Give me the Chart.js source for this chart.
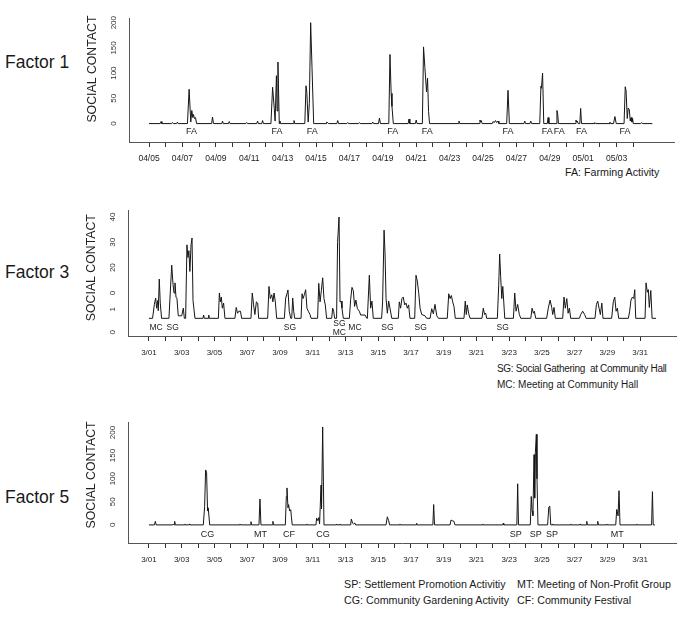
<!DOCTYPE html>
<html>
<head>
<meta charset="utf-8">
<script src="https://cdn.jsdelivr.net/npm/chart.js@4.4.1/dist/chart.umd.min.js"></script>
<style>
  body { margin: 0; background: #fff; font-family: "Liberation Sans", Arial, sans-serif; color: #1a1a1a; }
  #page { position: relative; width: 685px; height: 620px; overflow: hidden; }
  canvas { position: absolute; }
  .factor { position: absolute; left: 5px; font-size: 17.5px; line-height: 20px; }
  .note { position: absolute; font-size: 10.7px; line-height: 14px; white-space: pre; }
  .note.small { font-size: 10px; }
</style>
</head>
<body>
<div id="page">
  <div class="factor" style="top:52px">Factor 1</div>
  <div class="factor" style="top:262px">Factor 3</div>
  <div class="factor" style="top:487px">Factor 5</div>

  <canvas id="f1" width="605" height="160" style="left:80px;top:5px"></canvas>
  <canvas id="f3" width="606" height="165" style="left:79px;top:195px"></canvas>
  <canvas id="f5" width="606" height="159" style="left:79px;top:409px"></canvas>

  <div class="note" style="left:565px;top:165px">FA: Farming Activity</div>
  <div class="note small" style="left:497px;top:362px;letter-spacing:-0.3px">SG: Social Gathering  at Community Hall</div>
  <div class="note small" style="left:497px;top:378px">MC: Meeting at Community Hall</div>
  <div class="note" style="left:344px;top:577px">SP: Settlement Promotion Activitiy</div>
  <div class="note" style="left:517px;top:577px">MT: Meeting of Non-Profit Group</div>
  <div class="note" style="left:344px;top:593px">CG: Community Gardening Activity</div>
  <div class="note" style="left:517px;top:593px">CF: Community Festival</div>
</div>
<script>
// Days are counted from the first tick (04/05 for Factor 1, 3/01 for the others)

// ---- Factor 1 ----
const f1Dates = ['04/05','04/06','04/07','04/08','04/09','04/10','04/11','04/12','04/13','04/14',
                 '04/15','04/16','04/17','04/18','04/19','04/20','04/21','04/22','04/23','04/24',
                 '04/25','04/26','04/27','04/28','04/29','04/30','05/01','05/02','05/03','05/04'];
const f1YTicks = [0, 50, 100, 150, 200];
const f1YLabels = ['0', '50', '100', '150', '200'];
const f1Days = [
  0, 0.67, 0.72, 0.77, 1.35, 1.4, 1.45, 1.65, 1.7, 1.75,
  2.3, 2.4, 2.5, 2.56, 2.62, 2.66, 2.72, 2.78, 2.85,
  3.75, 3.8, 3.86, 4.36, 4.4, 4.45, 4.76, 4.8, 4.85,
  5.8, 5.85, 5.9, 6.45, 6.5, 6.55, 6.75, 6.8, 6.85,
  7.3, 7.4, 7.5, 7.55, 7.63, 7.67, 7.72, 7.8, 7.84, 7.88,
  8.63, 8.68, 8.73,
  9.33, 9.4, 9.45, 9.53, 9.6, 9.68, 9.76, 9.86,
  10.6, 10.64, 10.7, 10.75, 11.25, 11.3, 11.35, 11.85, 11.9, 11.95,
  12.55, 12.6, 12.65, 13.35, 13.4, 13.45, 13.74, 13.8, 13.86,
  14.36, 14.43, 14.5, 14.55, 14.63,
  15.52, 15.57, 15.62, 15.95, 16.0, 16.05,
  16.37, 16.44, 16.52, 16.62, 16.68, 16.74, 16.8,
  18.51, 18.56, 18.61,
  19.77, 19.82, 19.86, 19.9, 19.95,
  20.55, 20.6, 20.68, 20.75, 20.82, 20.9, 20.95,
  21.42, 21.5, 21.58,
  22.45, 22.5, 22.55, 22.81, 22.86, 22.91,
  23.4, 23.47, 23.5, 23.57, 23.64,
  23.85, 23.9, 23.95,
  24.38, 24.43, 24.47, 24.52,
  25.52, 25.57, 25.61, 25.65, 25.7, 25.8, 25.85, 25.9,
  26.65, 26.7, 26.75, 27.55, 27.6, 27.65, 27.82, 27.9, 27.98,
  28.45, 28.52, 28.57, 28.64, 28.7, 28.76, 28.82, 28.87, 28.92, 28.96, 29.0,
  29.45, 29.5, 29.55, 30.14
];
const f1Values = [
  0, 0, 4, 0, 0, 2, 0, 0, 3, 0,
  0, 68, 3, 26, 12, 18, 10, 12, 0,
  0, 13, 0, 0, 5, 0, 0, 4, 0,
  0, 2, 0, 0, 5, 0, 0, 6, 0,
  0, 72, 30, 5, 95, 25, 122, 0, 5, 0,
  0, 6, 0,
  0, 75, 62, 3, 40, 200, 111, 0,
  0, 3, 2, 0, 0, 6, 0, 0, 2, 0,
  0, 2, 0, 0, 3, 0, 0, 11, 0,
  0, 137, 60, 34, 0,
  0, 9, 0, 0, 7, 0,
  0, 152, 111, 63, 90, 24, 0,
  0, 5, 0,
  0, 7, 3, 6, 0,
  0, 4, 2, 6, 2, 5, 0,
  0, 66, 0,
  0, 5, 0, 0, 5, 0,
  0, 74, 70, 100, 0,
  0, 12, 0,
  0, 26, 20, 0,
  0, 7, 3, 5, 0, 0, 30, 0,
  0, 2, 0, 0, 3, 0, 0, 14, 0,
  0, 73, 65, 10, 31, 28, 5, 12, 3, 10, 0,
  0, 2, 0, 0
];
const f1EventDays = [2.55, 7.66, 9.78, 14.6, 16.66, 21.5, 23.85, 24.57, 25.9, 28.5];
const f1EventLabels = ['FA', 'FA', 'FA', 'FA', 'FA', 'FA', 'FA', 'FA', 'FA', 'FA'];

// ---- Factor 3 ----
const marchDates = ['3/01','3/02','3/03','3/04','3/05','3/06','3/07','3/08','3/09','3/10',
                    '3/11','3/12','3/13','3/14','3/15','3/16','3/17','3/18','3/19','3/20',
                    '3/21','3/22','3/23','3/24','3/25','3/26','3/27','3/28','3/29','3/30','3/31'];
const f3YTicks = [-5.5, 3.6, 10, 20, 30, 40];
const f3YLabels = ['0', '1', '0', '20', '30', '40'];
const f3Days = [
  0,
  0.22, 0.33, 0.41, 0.47, 0.53, 0.57, 0.63, 0.69, 0.77,
  1.22, 1.39, 1.47, 1.53, 1.59, 1.65, 1.71, 1.79, 2.0, 2.1, 2.16,
  2.24, 2.32, 2.38, 2.44, 2.5, 2.57, 2.63, 2.69, 2.81,
  3.3, 3.34, 3.38, 3.61, 3.65, 3.69,
  4.24, 4.3, 4.36, 4.42, 4.48, 4.56, 4.64,
  5.25, 5.33, 5.41, 5.49, 5.59, 5.66,
  6.23, 6.31, 6.39, 6.47, 6.56, 6.64, 6.7,
  7.25, 7.33, 7.41, 7.5, 7.57, 7.64, 7.72, 7.8,
  8.27, 8.35, 8.43, 8.49, 8.57, 8.66, 8.72, 8.78, 8.84, 8.9,
  9.29, 9.35, 9.41, 9.49, 9.57, 9.65, 9.73, 9.84, 9.9,
  10.3, 10.37, 10.45, 10.53, 10.61, 10.69, 10.77, 10.85,
  11.16, 11.22, 11.28, 11.34,
  11.46, 11.52, 11.61, 11.67, 11.73, 11.79, 11.87,
  12.24, 12.32, 12.4, 12.48, 12.56, 12.64, 12.73, 12.85, 12.93, 13.2, 13.3,
  13.34, 13.46, 13.54, 13.62, 13.7,
  14.21, 14.27, 14.36, 14.42, 14.48, 14.56, 14.64, 14.72, 14.83,
  15.23, 15.29, 15.37, 15.45, 15.53, 15.62, 15.7, 15.78, 15.86, 15.94,
  16.23, 16.31, 16.39, 16.48, 16.56, 16.66, 16.86, 16.96,
  17.17, 17.27, 17.37, 17.47, 17.58, 17.68,
  18.22, 18.31, 18.39, 18.47, 18.55, 18.63, 18.71,
  19.24, 19.32, 19.38, 19.44, 19.53, 19.61,
  20.34, 20.42, 20.5, 20.57, 20.63,
  21.28, 21.36, 21.42, 21.48, 21.55, 21.61, 21.67, 21.73,
  22.26, 22.34, 22.42, 22.52, 22.62, 22.71,
  23.32, 23.4, 23.48, 23.54, 23.62,
  24.29, 24.39, 24.5, 24.6, 24.66, 24.74, 24.82,
  25.27, 25.35, 25.43, 25.52, 25.6, 25.68, 25.76,
  26.29, 26.37, 26.49, 26.61, 26.7,
  27.24, 27.33, 27.41, 27.49, 27.57, 27.66, 27.73,
  28.26, 28.36, 28.45, 28.53, 28.61, 28.69,
  29.28, 29.36, 29.44, 29.53, 29.61, 29.67, 29.73,
  30.3, 30.36, 30.44, 30.5, 30.56, 30.65, 30.73,
  30.97
];
const f3Values = [
  0,
  0, 5.5, 8, 4, 7, 3, 15.5, 6, 0,
  0, 21, 13.5, 10, 14, 8.4, 7.8, 1, 1, 4, 0,
  0, 29, 24, 26.7, 18.5, 29, 31.7, 7, 0,
  0, 1.3, 0, 0, 1.3, 0,
  0, 10, 6.5, 8.4, 4, 6, 0,
  0, 4.3, 2, 2.8, 2.8, 0,
  0, 10, 5.3, 1.5, 6.5, 6, 0,
  0, 12.6, 7.8, 9.3, 6.5, 10, 6.5, 0,
  0, 8, 9.7, 11.2, 2.8, 0, 0, 8, 2.8, 0,
  0, 9.7, 7.8, 9.3, 11.3, 4, 2.8, 1.5, 0,
  0, 13.8, 6.5, 11, 16, 7.8, 5.3, 0,
  0, 4, 2.8, 0,
  0, 30, 40, 6.5, 6.8, 4, 0,
  0, 7.5, 12.2, 11, 4.7, 7.2, 3.8, 2.8, 1.3, 1.3, 0,
  0, 17, 4, 6.8, 0,
  0, 6.5, 34.8, 25.4, 7.8, 2, 6.8, 4, 0,
  0, 6.5, 4, 7.8, 8.4, 5.3, 6, 4, 5.3, 0,
  0, 17, 14.7, 9.7, 4, 1.5, 1, 0,
  0, 3.8, 1.8, 5.5, 1, 0,
  0, 9.7, 7.8, 9, 6.5, 4.7, 0,
  0, 6.8, 1.5, 5.3, 1.8, 0,
  0, 4, 1.5, 2, 0,
  0, 12.8, 25.4, 16.6, 7.8, 12.6, 6.5, 0,
  0, 10, 2.8, 5.5, 1.5, 0,
  0, 4, 2, 2.8, 0,
  0, 4, 7.2, 4.3, 1.5, 4.3, 0,
  0, 8.4, 4, 7.8, 2, 4, 0,
  0, 1.5, 2.8, 1.5, 0,
  0, 5.5, 6.8, 4, 1.5, 6, 0,
  0, 6.5, 8.4, 2.8, 4, 0,
  0, 2.8, 7.2, 8.4, 7.8, 11.3, 0,
  0, 14, 10.3, 11.3, 4.3, 11, 0,
  0
];
const f3EventDays = [0.43, 1.45, 8.61, 11.63, 12.58, 14.56, 16.6, 21.6];
const f3EventLabels = ['MC', 'SG', 'SG', 'SG\nMC', 'MC', 'SG', 'SG', 'SG'];

// ---- Factor 5 ----
const f5YTicks = [0, 50, 100, 150, 200];
const f5YLabels = ['0', '50', '100', '150', '200'];
const f5Days = [
  0, 0.34, 0.39, 0.44, 1.45, 1.49, 1.53, 1.57, 1.61,
  2.17, 2.2, 2.23, 2.43, 2.46, 2.49,
  3.32, 3.4, 3.46, 3.52, 3.58, 3.62, 3.71,
  5.53, 5.56, 5.59, 6.19, 6.23, 6.27,
  6.72, 6.78, 6.84, 7.53, 7.57, 7.61,
  8.33, 8.39, 8.43, 8.49, 8.53, 8.59, 8.66, 8.7, 8.75,
  9.6, 9.63, 9.66,
  10.2, 10.24, 10.32, 10.38, 10.42, 10.51, 10.54, 10.61, 10.69,
  11.43, 11.46, 11.5, 11.63, 11.66, 11.69,
  12.32, 12.36, 12.44, 12.5, 12.58, 12.62,
  14.48, 14.56, 14.64, 14.7, 15.3, 15.33, 15.36, 16.32, 16.35, 16.38,
  17.34, 17.39, 17.44, 18.39, 18.45, 18.53, 18.63, 18.69,
  20.35, 20.38, 20.41, 21.61, 21.64, 21.67,
  22.47, 22.52, 22.57,
  23.29, 23.35, 23.4, 23.45, 23.52, 23.56, 23.6, 23.66, 23.7, 23.76,
  24.35, 24.42, 24.48, 24.54, 24.63, 24.66, 24.69,
  25.73, 25.76, 25.79, 26.3, 26.33, 26.36, 26.7, 26.74, 26.78,
  27.37, 27.41, 27.45, 27.93, 27.96, 27.99,
  28.51, 28.57, 28.6, 28.65, 28.71, 28.77,
  29.76, 29.79, 29.82, 30.7, 30.75, 30.8, 30.9
];
const f5Values = [
  0, 0, 7.7, 0, 0, 2, 0, 7.7, 0,
  0, 2, 0, 0, 2, 0,
  0, 40, 119, 114, 30, 37, 0,
  0, 2, 0, 0, 7, 0,
  0, 56, 0, 0, 7.7, 0,
  0, 61.5, 80, 37, 44, 30, 33, 17.5, 0,
  0, 2, 0,
  0, 14.7, 9, 16, 2, 86, 35, 212, 0,
  0, 2, 0, 0, 2, 0,
  0, 12.6, 3.5, 2, 4, 0,
  0, 17.5, 9, 0, 0, 2, 0, 0, 3.5, 0,
  0, 44, 0, 0, 10.5, 9, 7.7, 0,
  0, 2, 0, 0, 3.5, 0,
  0, 89, 0,
  0, 61.5, 30, 20, 152, 58, 156, 196, 100, 0,
  0, 38.5, 40.5, 0, 0, 2, 0,
  0, 2, 0, 0, 2, 0, 0, 7.7, 0,
  0, 7.7, 0, 0, 2, 0,
  0, 33.5, 30, 19.6, 74, 0,
  0, 2, 0, 0, 72, 0, 0
];
const f5EventDays = [3.58, 6.82, 8.55, 10.63, 22.4, 23.62, 24.62, 28.6];
const f5EventLabels = ['CG', 'MT', 'CF', 'CG', 'SP', 'SP', 'SP', 'MT'];

Chart.defaults.font.family = '"Liberation Sans", Arial, sans-serif';
Chart.defaults.color = '#222';

// event codes under the peaks + the rotated axis title
const panelText = {
  id: 'panelText',
  afterDraw(chart, args, opts) {
    const ctx = chart.ctx;
    const xs = chart.scales.x, ys = chart.scales.y;
    ctx.save();
    ctx.fillStyle = '#222';
    ctx.textAlign = 'center';
    ctx.textBaseline = 'middle';
    ctx.font = opts.size + 'px "Liberation Sans", Arial, sans-serif';
    const y0 = ys.getPixelForValue(0) + opts.offset;
    opts.days.forEach((d, i) => {
      const lines = opts.labels[i].split('\n');
      lines.forEach((t, j) => {
        ctx.fillText(t, xs.getPixelForValue(d), y0 + (j - (lines.length - 1) / 2) * (opts.size + 0.5));
      });
    });
    ctx.translate(chart.chartArea.left - 36, ys.getPixelForValue(opts.titleMid));
    ctx.rotate(-Math.PI / 2);
    ctx.font = '12.3px "Liberation Sans", Arial, sans-serif';
    ctx.fillText('SOCIAL CONTACT', 0, 0);
    ctx.restore();
  }
};

function makePanel(id, p) {
  return new Chart(document.getElementById(id), {
    type: 'line',
    data: {
      datasets: [{
        data: p.days.map((d, i) => ({ x: d, y: p.values[i] })),
        borderColor: '#151515',
        borderWidth: 1,
        pointRadius: 0,
        tension: 0
      }]
    },
    plugins: [panelText],
    options: {
      responsive: false,
      animation: false,
      devicePixelRatio: 1,
      layout: { padding: { top: 10, right: p.padRight, left: 0, bottom: 0 } },
      plugins: {
        legend: { display: false },
        tooltip: { enabled: false },
        panelText: { days: p.eventDays, labels: p.eventLabels, size: p.eventSize, offset: p.eventOffset, titleMid: p.titleMid }
      },
      scales: {
        x: {
          type: 'linear',
          min: p.xMin,
          max: p.xMax,
          afterBuildTicks: s => { s.ticks = p.dates.map((l, i) => ({ value: i })); },
          afterFit: s => { s.height = p.xAxisHeight; },
          ticks: {
            autoSkip: false, minRotation: 0, maxRotation: 0, padding: 7,
            font: { size: p.tickSize }, color: '#222',
            callback: (v, i) => (i % 2 ? '' : p.dates[i])
          },
          grid: { drawOnChartArea: false, drawTicks: true, tickLength: 5, color: '#333' },
          border: { display: true, color: '#555' }
        },
        y: {
          min: p.yMin,
          max: p.yMax,
          afterBuildTicks: s => { s.ticks = p.yTicks.map(v => ({ value: v })); },
          afterFit: s => { s.width = 49; },
          ticks: {
            minRotation: 90, maxRotation: 90, crossAlign: 'center', padding: p.yPad,
            font: { size: 8 }, color: '#333',
            callback: (v, i) => p.yLabels[i]
          },
          grid: { display: false, drawTicks: false },
          border: { display: true, color: '#555' }
        }
      }
    }
  });
}

makePanel('f1', {
  days: f1Days, values: f1Values, dates: f1Dates, yTicks: f1YTicks, yLabels: f1YLabels,
  eventDays: f1EventDays, eventLabels: f1EventLabels, eventSize: 9, eventOffset: 8, titleMid: 108,
  xMin: -1.2, xMax: 31.44, yMin: -36.5, yMax: 207.7, padRight: 11, xAxisHeight: 23, tickSize: 8.5, yPad: 9
});
makePanel('f3', {
  days: f3Days, values: f3Values, dates: marchDates, yTicks: f3YTicks, yLabels: f3YLabels,
  eventDays: f3EventDays, eventLabels: f3EventLabels, eventSize: 8.5, eventOffset: 9.5, titleMid: 20,
  xMin: -1.28, xMax: 32.19, yMin: -6.98, yMax: 42.45, padRight: 9, xAxisHeight: 24, tickSize: 8, yPad: 11
});
makePanel('f5', {
  days: f5Days, values: f5Values, dates: marchDates, yTicks: f5YTicks, yLabels: f5YLabels,
  eventDays: f5EventDays, eventLabels: f5EventLabels, eventSize: 9, eventOffset: 10, titleMid: 108,
  xMin: -1.28, xMax: 32.19, yMin: -39.2, yMax: 221, padRight: 9, xAxisHeight: 25, tickSize: 8, yPad: 9
});
</script>
</body>
</html>
